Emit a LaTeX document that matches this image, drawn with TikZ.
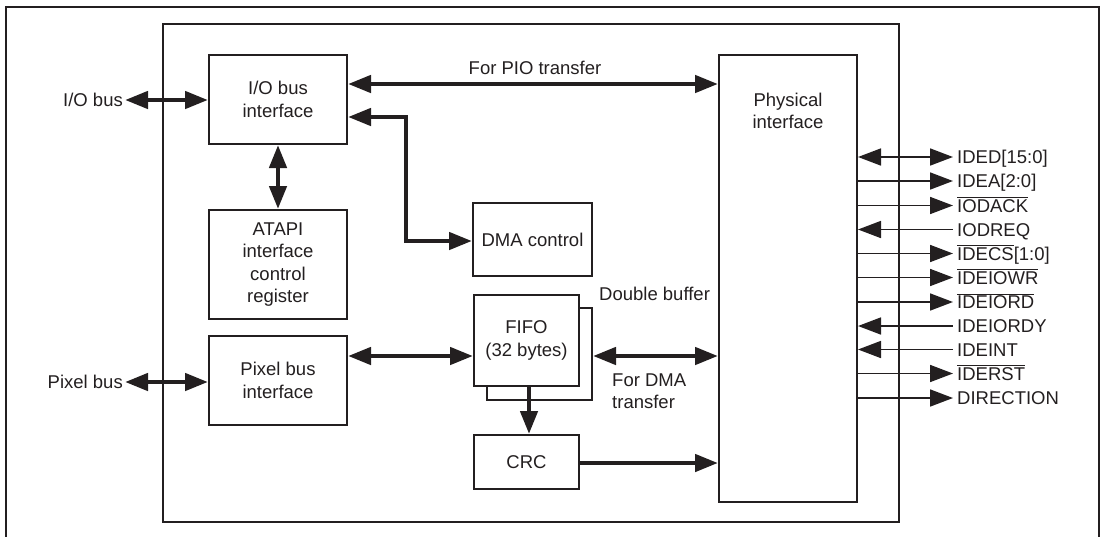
\documentclass[tikz,border=0pt]{standalone}
\usepackage{fontspec}
\setmainfont{Liberation Sans}
\usetikzlibrary{arrows.meta}
\definecolor{ink}{RGB}{35,31,32}
\newcommand\dgfont{\fontsize{18.5}{22.5}\selectfont}
\begin{document}
\begin{tikzpicture}[x=1pt,y=-1pt,
  >={Triangle[length=23pt,width=17pt]},
  every node/.style={font=\dgfont,text=ink},
  box/.style={draw=ink,line width=2pt,fill=white,inner sep=0pt,align=center},
  bus/.style={draw=ink,line width=4.5pt},
  sig/.style={draw=ink,line width=1.7pt},
  txt/.style={inner sep=2pt,align=center}
]
\useasboundingbox (0,0) rectangle (1102,536);
% outer frame (open at the bottom)
\draw[ink,line width=2pt] (6,540) -- (6,7) -- (1099,7) -- (1099,540);
% chip
\node[box,fill=none,minimum width=736pt,minimum height=498pt] (chip) at (531,273) {};
% blocks
\node[box,minimum width=138pt,minimum height=89pt] (iobus) at (278,99.5) {I/O bus\\interface};
\node[box,minimum width=138pt,minimum height=109pt] (atapi) at (278,264.5) {ATAPI\\interface\\control\\register};
\node[box,minimum width=138pt,minimum height=89pt] (pixel) at (278,380.5) {Pixel bus\\interface};
\node[box,minimum width=119pt,minimum height=73pt] (dma) at (532.5,239.5) {DMA control};
\node[box,minimum width=105pt,minimum height=92pt] (fifob) at (539.5,354) {};
\node[box,minimum width=105pt,minimum height=91pt] (fifo) at (526.5,340.5) {FIFO\\(32 bytes)};
\node[box,minimum width=105pt,minimum height=54pt] (crc) at (526.5,462) {CRC};
\node[box,minimum width=138pt,minimum height=447pt] (phys) at (788,278.5) {};
\node[txt] (phystxt) at (788,111) {Physical\\interface};
% external labels
\node[txt,anchor=east] (iolab) at (125,100) {I/O bus};
\node[txt,anchor=east] (pxlab) at (125,382) {Pixel bus};
\node[txt] (pio) at (535,68) {For PIO transfer};
\node[txt,anchor=west] (dbuf) at (597,294) {Double buffer};
\node[txt,anchor=west,align=left] (dmat) at (610,391) {For DMA\\transfer};
% buses
\draw[bus,<->] (iolab.east) -- (iobus.west |- iolab.east);
\draw[bus,<->] (pxlab.east) -- (pixel.west |- pxlab.east);
\draw[bus,<->] (iobus.east |- 0,84) -- (phys.west |- 0,84);
\draw[bus,<->] (iobus.east |- 0,117) -- (406,117) -- (406,241) -- (dma.west |- 0,241);
\draw[bus,<->] (iobus.south) -- (atapi.north);
\draw[bus,<->] (pixel.east |- 0,356) -- (fifo.west |- 0,356);
\draw[bus,<->] (fifob.east |- 0,356) -- (phys.west |- 0,356);
\draw[bus,->] (fifo.south -| 529,0) -- (crc.north -| 529,0);
\draw[bus,->] (crc.east |- 0,463) -- (phys.west |- 0,463);
% signals
\foreach \y/\t/\d [count=\i] in {
  157/{IDED[15:0]}/<->,
  181/{IDEA[2:0]}/->,
  205.5/{$\overline{\mbox{IODACK}}$}/->,
  229.5/{IODREQ}/<-,
  253.5/{$\overline{\mbox{IDECS}}$[1:0]}/->,
  277.5/{$\overline{\mbox{IDEIOWR}}$}/->,
  302/{$\overline{\mbox{IDEIORD}}$}/->,
  326/{IDEIORDY}/<-,
  349.5/{IDEINT}/<-,
  373.5/{$\overline{\mbox{IDERST}}$}/->,
  398/{DIRECTION}/->} {
  \node[anchor=west,inner sep=0pt] (s\i) at (957,\y+2) {\strut\t};
  \draw[sig,\d] (phys.east |- 0,\y) -- ([xshift=-4pt]s\i.west |- 0,\y);
}
\end{tikzpicture}
\end{document}
